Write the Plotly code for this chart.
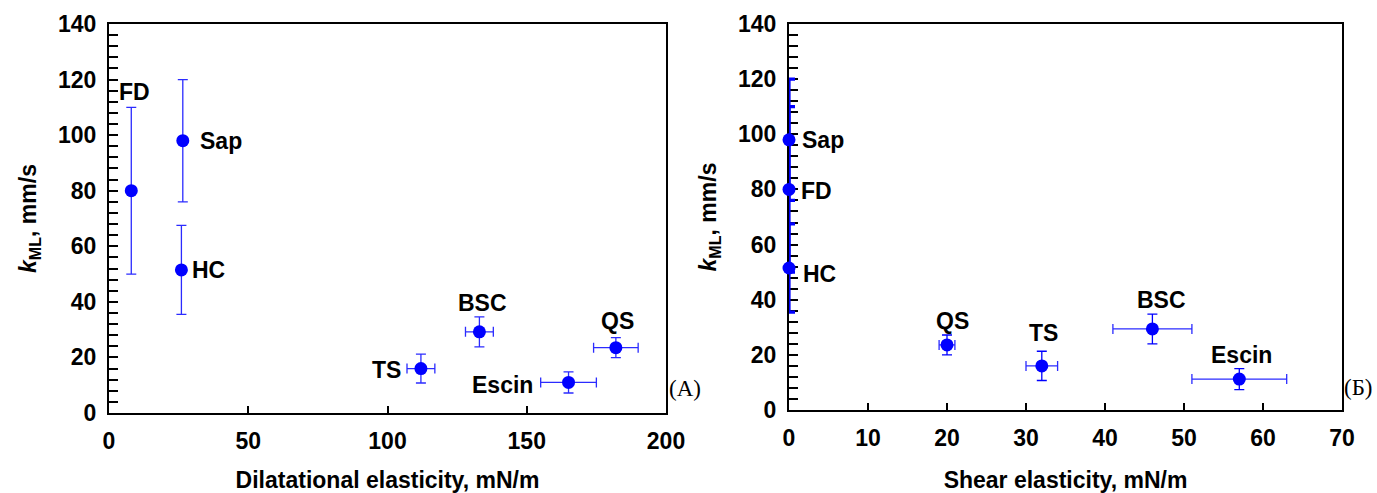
import plotly.graph_objects as go

# ---- data ----
names_a = ["FD", "Sap", "HC", "TS", "BSC", "Escin", "QS"]
dil_x = [8, 26.5, 26, 112, 133, 165, 182]
dil_xerr = [0, 1, 1, 5, 5, 10, 8]
k_a = [80, 98, 51.5, 16, 29.2, 11, 23.5]
k_a_err = [30, 22, 16, 5.2, 5.4, 3.8, 3.6]

names_b = ["Sap", "FD", "HC", "QS", "TS", "BSC", "Escin"]
shear_x = [0, 0, 0, 20, 32, 46, 57]
shear_xerr = [0, 0, 0, 1, 2, 5, 6]
k_b = [98, 80, 51.5, 23.6, 16, 29.4, 11.2]
k_b_err = [22, 30, 16, 3.6, 5.3, 5.4, 3.8]

# label offsets (pixels) and anchors
lab_a = {"FD": (3, 99, "center"), "Sap": (15, 0, "left"), "HC": (9, 0, "left"),
         "TS": (-18, -1, "right"), "BSC": (3, 29, "center"),
         "Escin": (-34, -3, "right"), "QS": (2, 27, "center")}
lab_b = {"Sap": (11, 0, "left"), "FD": (10, -2, "left"), "HC": (12, -6, "left"),
         "QS": (5, 24, "center"), "TS": (2, 33, "center"),
         "BSC": (9, 29, "center"), "Escin": (2, 24, "center")}

BLUE = "#0000FF"
EBLUE = "rgba(20,20,255,0.9)"
FONT = "Liberation Sans, Arial, sans-serif"
FS = 23

fig = go.Figure()
fig.add_trace(go.Scatter(
    x=dil_x, y=k_a, mode="markers", xaxis="x", yaxis="y",
    marker=dict(color=BLUE, size=13),
    error_y=dict(type="data", array=k_a_err, color=EBLUE, thickness=1.3, width=5),
    error_x=dict(type="data", array=dil_xerr, color=EBLUE, thickness=1.3, width=5),
    cliponaxis=False, showlegend=False))

# right panel: points lying on the y axis (zero shear) drawn with a heavier bar
on_axis = [i for i, v in enumerate(shear_x) if v == 0]
off_axis = [i for i, v in enumerate(shear_x) if v != 0]
for idx, thick, w in ((on_axis, 3.2, 6), (off_axis, 1.3, 5)):
    fig.add_trace(go.Scatter(
        x=[shear_x[i] for i in idx], y=[k_b[i] for i in idx], mode="markers",
        xaxis="x2", yaxis="y2",
        marker=dict(color=BLUE, size=13),
        error_y=dict(type="data", array=[k_b_err[i] for i in idx], color=BLUE,
                     thickness=thick, width=w),
        error_x=dict(type="data", array=[shear_xerr[i] for i in idx], color=EBLUE,
                     thickness=1.3, width=5),
        cliponaxis=False, showlegend=False))

lblfont = dict(family=FONT, size=FS, color="black", weight="bold")
ann = []
for n, x, y in zip(names_a, dil_x, k_a):
    dx, dy, anc = lab_a[n]
    ann.append(dict(x=x, y=y, xref="x", yref="y", text=n, showarrow=False,
                    xshift=dx, yshift=dy, xanchor=anc, yanchor="middle", font=lblfont))
for n, x, y in zip(names_b, shear_x, k_b):
    dx, dy, anc = lab_b[n]
    ann.append(dict(x=x, y=y, xref="x2", yref="y2", text=n, showarrow=False,
                    xshift=dx, yshift=dy, xanchor=anc, yanchor="middle", font=lblfont))
serif = dict(family="Liberation Serif, Times New Roman, serif", size=23, color="black")
ann.append(dict(x=685 / 1377, y=1 - 388 / 493, xref="paper", yref="paper", text="(A)",
                showarrow=False, xanchor="center", yanchor="middle", font=serif))
ann.append(dict(x=1358 / 1377, y=1 - 387 / 493, xref="paper", yref="paper", text="(Б)",
                showarrow=False, xanchor="center", yanchor="middle", font=serif))

tickfont = dict(family=FONT, size=FS, color="black", weight="bold")
titlefont = dict(family=FONT, size=FS, color="black", weight="bold")

def xax(domain, rng, dtick, title):
    return dict(domain=domain, range=rng, dtick=dtick, tick0=0, ticks="inside", ticklen=7,
                tickwidth=1.5, tickcolor="black", showline=True, linecolor="black",
                linewidth=2, mirror=True, showgrid=False, zeroline=False, automargin=False,
                ticklabelstandoff=6, layer="below traces",
                tickfont=tickfont, title=dict(text=title, font=titlefont, standoff=31))

def yax(domain, anchor):
    return dict(domain=domain, range=[0, 140], dtick=20, tick0=0, ticks="inside", ticklen=9,
                tickwidth=1.5, tickcolor="black", showline=True, linecolor="black",
                linewidth=2, mirror=True, showgrid=False, zeroline=False, anchor=anchor,
                automargin=False, ticklabelstandoff=6, layer="below traces",
                minor=dict(dtick=4, ticks="inside", ticklen=9, tickwidth=1.5, tickcolor="black"),
                tickfont=tickfont,
                title=dict(text="<i>k</i><sub>ML</sub>, mm/s", font=titlefont, standoff=15))

fig.update_layout(
    width=1377, height=493, margin=dict(l=0, r=0, t=0, b=0),
    paper_bgcolor="white", plot_bgcolor="white",
    xaxis=dict(xax([109 / 1377, 666 / 1377], [0, 200], 50, "Dilatational elasticity, mN/m"), anchor="y"),
    yaxis=yax([1 - 413 / 493, 1 - 24 / 493], "x"),
    xaxis2=dict(xax([789 / 1377, 1342 / 1377], [0, 70], 10, "Shear elasticity, mN/m"), anchor="y2"),
    yaxis2=yax([1 - 410 / 493, 1 - 24 / 493], "x2"),
    annotations=ann,
)
fig.write_html("out.html")
